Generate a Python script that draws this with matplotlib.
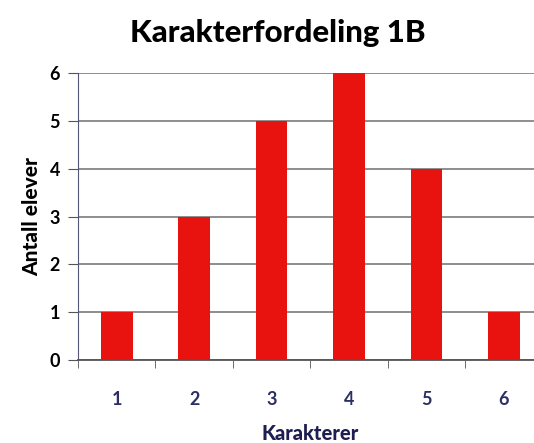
import matplotlib
matplotlib.use("Agg")
import matplotlib.pyplot as plt

karakterer = ["1", "2", "3", "4", "5", "6"]
antall = [1, 3, 5, 6, 4, 1]

plt.rcParams['font.family'] = ['Lato', 'DejaVu Sans']

fig = plt.figure(figsize=(5.34, 4.43), dpi=100)
ax = fig.add_axes([0.146, 0.187, 0.87, 0.648])

x = range(1, len(karakterer) + 1)
ax.bar(x, antall, width=0.41, color="#e8130f", zorder=3)

ax.set_xlim(0.5, 6.5)
ax.set_ylim(0, 6)
ax.set_yticks(range(0, 7))
ax.set_xticks(list(x))
ax.set_xticklabels(karakterer)
ax.set_xticks([i + 0.5 for i in range(0, 7)], minor=True)
ax.tick_params(axis="x", which="major", length=0, pad=22, labelsize=13, labelcolor="#2e2e66")
ax.tick_params(axis="x", which="minor", length=6, direction="out", color="#555555")
ax.tick_params(axis="y", length=7, direction="out", color="#555555", labelsize=13, pad=6)
for lbl in ax.get_xticklabels() + ax.get_yticklabels():
    lbl.set_fontweight("bold")

ax.grid(axis="y", color="#7a7a7a", linewidth=1.2, zorder=0)
for s in ["top", "right"]:
    ax.spines[s].set_visible(False)
ax.spines["left"].set_color("#555577")
ax.spines["bottom"].set_color("#555555")
ax.spines["bottom"].set_linewidth(1.3)

ax.set_ylabel("Antall elever", fontsize=15, fontweight="black", labelpad=6)
ax.set_xlabel("Karakterer", fontsize=14.5, fontweight="black", color="#1e1e50", labelpad=12)
fig.suptitle("Karakterfordeling 1B", x=0.52, y=0.958, fontsize=22.5, fontweight="black")

fig.savefig("out.png", dpi=100)
